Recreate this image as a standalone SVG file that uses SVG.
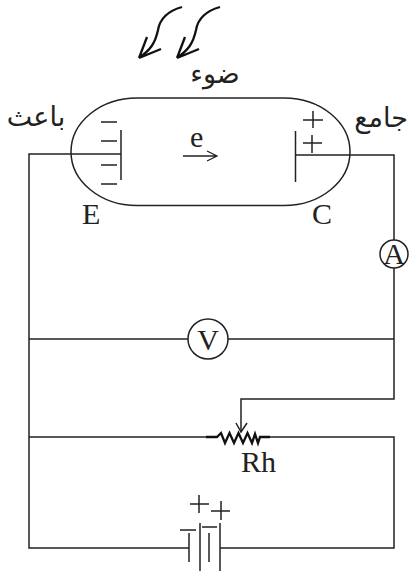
<svg xmlns="http://www.w3.org/2000/svg" width="409" height="571" viewBox="0 0 409 571">
<style>
.w{fill:none;stroke:#222;stroke-width:1.5}
.thin{fill:none;stroke:#222;stroke-width:1.3}
.thick{fill:none;stroke:#111;stroke-width:2.3}
.t{font-family:"Liberation Serif",serif;font-size:30px;fill:#222}
.a{font-family:"DejaVu Sans",serif;font-size:27px;fill:#222}
.c{fill:#fff;stroke:#222;stroke-width:1.5}
</style>
<rect width="409" height="571" fill="#fff"/>
<g id="connectors">
<path class="w" d="M121 154H29V548H189M295 155H394V240M394 268V399H241V432M29 339H188M228 339H394M29 437H206M270 437H394V548H220"/>
<path class="w" d="M236 423L241 432L247 423"/>
<path class="thick" d="M182 7C168 11 160 18 158 30C155 44 150 50 139 58M139 58L147 37M139 58L161 49M220 7C206 11 198 18 196 30C193 44 188 50 177 58M177 58L185 37M177 58L199 49"/>
</g>
<g id="tube"><rect class="w" x="71" y="98" width="279" height="107.500" rx="66" ry="53.750"/></g>
<g id="emitter"><path class="w" d="M121 130V180M101 122H117M101 141H117M101 165H117M101 184H117"/><text class="t" x="82" y="224">E</text></g>
<g id="collector"><path class="w" d="M295.500 131V182M313 111V128M303 120H323M312 135V153M303 143H322"/><text class="t" x="312" y="224">C</text></g>
<g id="electron"><text class="t" x="190" y="147">e</text><path class="thin" d="M183 156H217M207 151L217 156L207 161"/></g>
<g id="label-light"><text class="a" x="215" y="83" text-anchor="middle" direction="rtl">ضوء</text></g>
<g id="label-emitter"><text class="a" x="36" y="126" text-anchor="middle" direction="rtl">باعث</text></g>
<g id="label-collector"><text class="a" x="381" y="127" text-anchor="middle" direction="rtl">جامع</text></g>
<g id="ammeter"><circle class="c" cx="394" cy="254" r="14"/><text class="t" x="394" y="264" text-anchor="middle">A</text></g>
<g id="voltmeter"><circle class="c" cx="208" cy="339" r="20"/><text class="t" x="208" y="350" text-anchor="middle">V</text></g>
<g id="rheostat"><path class="thick" d="M206 437H217L221 433L225 443L229.500 433L234 443L238.500 433L243 443L247.500 433L252 443L255 434L258 443L260 437H270"/><text class="t" x="241" y="472">Rh</text></g>
<g id="battery"><path class="w" d="M189 533V562M200 523V571M209 533V562M220 523V571M180 530H196M202 527H217M190 504H209M199 495V513M211 511H230M221 501V520"/></g>
</svg>
